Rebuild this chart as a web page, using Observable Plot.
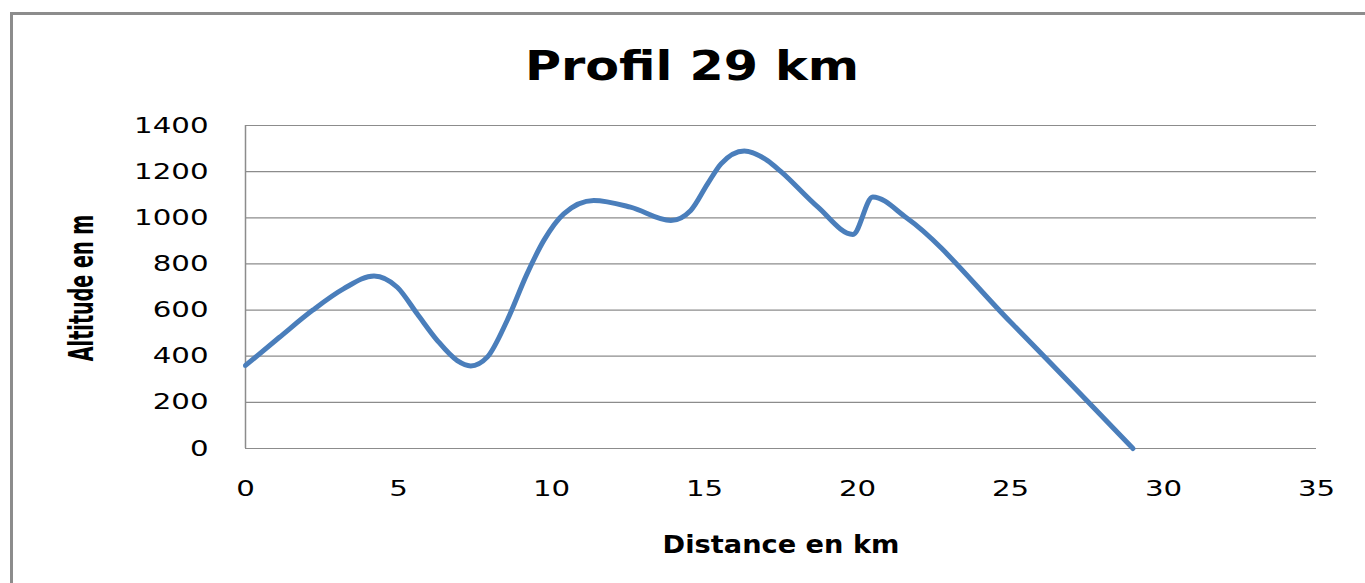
<!DOCTYPE html>
<html><head><meta charset="utf-8">
<script src="https://cdn.jsdelivr.net/npm/d3@7"></script>
<script src="https://cdn.jsdelivr.net/npm/@observablehq/plot@0.6"></script>
<style>
html,body{margin:0;padding:0;background:#fff;overflow:hidden;}
#wrap{position:relative;width:1365px;height:583px;overflow:hidden;background:#fff;}
#frame{position:absolute;left:10px;top:12px;width:2000px;height:2000px;border-left:3px solid #8c8c8c;border-top:3px solid #8c8c8c;}
#chart{position:absolute;left:0;top:0;}
</style></head><body>
<div id="wrap"><div id="frame"></div><div id="chart"></div></div>
<script>
const title = "Profil 29 km";
const xLabel = "Distance en km";
const yLabel = "Altitude en m";
const distance = [0, 1.1, 2.2, 3.2, 4.2, 4.96, 5.61, 6.27, 6.92, 7.36, 7.9, 8.55, 9.2, 9.75, 10.4, 11.38, 12.58, 13.9, 14.55, 15.1, 15.54, 16.3, 17.06, 17.5, 18.7, 19.85, 20.5, 21.6, 25, 29];
const altitude = [360, 481, 600, 692, 748, 699, 584, 468, 381, 358, 396, 555, 757, 902, 1017, 1075, 1046, 988, 1032, 1147, 1234, 1290, 1248, 1200, 1047, 928, 1090, 1000, 548, 0];
const xTicks = [0, 5, 10, 15, 20, 25, 30, 35];
const yTicks = [0, 200, 400, 600, 800, 1000, 1200, 1400];

const data = distance.map((d, i) => ({distance: d, altitude: altitude[i]}));

const chart = Plot.plot({
  width: 1365, height: 583,
  marginLeft: 245, marginRight: 49, marginTop: 125, marginBottom: 135,
  style: {fontFamily: "DejaVu Sans", fontSize: "22px", color: "#000", background: "transparent"},
  x: {domain: [0, 35], ticks: xTicks, tickSize: 0, tickPadding: 32, tickFormat: d => String(d), label: null},
  y: {domain: [0, 1400], ticks: yTicks, tickSize: 0, tickPadding: 37, tickFormat: d => String(d), label: null},
  marks: [
    Plot.gridY(yTicks, {stroke: "#8c8c8c", strokeOpacity: 1, strokeWidth: 1.2}),
    Plot.ruleX([0], {stroke: "#8c8c8c", strokeWidth: 1.5}),
    Plot.line(data, {x: "distance", y: "altitude", curve: "monotone-x", stroke: "#4a7ebb", strokeWidth: 5}),
    Plot.text([title], {text: d => d, frameAnchor: "top", textAnchor: "middle", lineAnchor: "middle", dx: -89, dy: -59, fontSize: 41, fontWeight: "bold", fill: "#000"}),
    Plot.text([xLabel], {text: d => d, frameAnchor: "bottom", textAnchor: "middle", lineAnchor: "middle", dy: 96, fontSize: 25, fontWeight: "bold", fill: "#000"}),
    Plot.text([yLabel], {text: d => d, frameAnchor: "left", textAnchor: "middle", lineAnchor: "middle", rotate: -90, dx: -163, dy: 1, fontSize: 33, fontWeight: "bold", fill: "#000"})
  ]
});

function stretchNode(node, sx) {
  let t = node.getAttribute("transform");
  if (!t) {
    const x = +node.getAttribute("x") || 0, y = +node.getAttribute("y") || 0;
    node.removeAttribute("x"); node.removeAttribute("y");
    t = `translate(${x},${y})`;
  }
  node.setAttribute("transform", t + ` scale(${sx},1)`);
}
function stretch(sel, sx) {
  d3.select(chart).selectAll(sel).each(function () { stretchNode(this, sx); });
}
stretch('g[aria-label="y-axis tick label"] text', 1.33);
stretch('g[aria-label="x-axis tick label"] text', 1.33);
const scales = {[title]: 1.2, [xLabel]: 1.09, [yLabel]: 0.58};
d3.select(chart).selectAll("text").each(function () {
  const s = scales[this.textContent];
  if (s) stretchNode(this, s);
});

document.getElementById("chart").appendChild(chart);
</script>
</body></html>
